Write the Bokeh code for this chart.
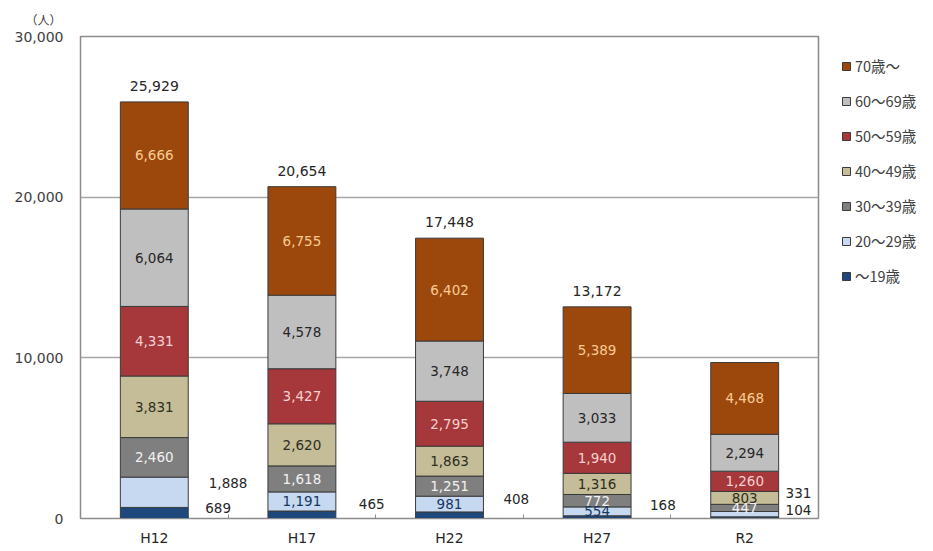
from bokeh.plotting import figure
from bokeh.models import (ColumnDataSource, Legend, LegendItem, FixedTicker,
                          NumeralTickFormatter)
from bokeh.core.properties import value
from bokeh.embed import file_html
from bokeh.resources import INLINE

# ---------------- data ----------------
categories = ["H12", "H17", "H22", "H27", "R2"]
age_groups = ["～19歳", "20～29歳", "30～39歳", "40～49歳", "50～59歳", "60～69歳", "70歳～"]
v_u19 = [689, 465, 408, 168, 104]
v_20s = [1888, 1191, 981, 554, 331]
v_30s = [2460, 1618, 1251, 772, 447]
v_40s = [3831, 2620, 1863, 1316, 803]
v_50s = [4331, 3427, 2795, 1940, 1260]
v_60s = [6064, 4578, 3748, 3033, 2294]
v_70p = [6666, 6755, 6402, 5389, 4468]
show_total = [True, True, True, True, False]
y_ticks = [0, 10000, 20000, 30000]

series = [v_u19, v_20s, v_30s, v_40s, v_50s, v_60s, v_70p]
fills = ["#1F497D", "#C6D9F1", "#7F7F7F", "#C4BD97", "#A6373A", "#BFBFBF", "#9C480C"]
label_colors = [None, "#17375E", "#F2F2F2", "#2E2E1E", "#F6D0D0", "#262626", "#F9CB95"]

FONT = "Noto Sans CJK JP"
NUM_FONT = "DejaVu Sans"
FW, FH = 738, 482
YMAX = 30000
px_x = 5.0 / FW
px_y = YMAX / FH

p = figure(width=925, height=543, x_range=(0, 5), y_range=(0, YMAX),
           output_backend="svg", toolbar_location=None,
           min_border_left=80, min_border_right=107, min_border_top=36,
           min_border_bottom=25)
p.frame_width = FW
p.frame_height = FH

xc = [i + 0.5 for i in range(len(categories))]
bar_w = 0.46

renderers = []
bottoms = [0] * len(categories)
inside = {"x": [], "y": [], "t": [], "c": []}
seg_centers = []
for s_idx, vals in enumerate(series):
    tops = [b + v for b, v in zip(bottoms, vals)]
    src = ColumnDataSource(dict(x=xc, bottom=bottoms, top=tops))
    r = p.vbar(x="x", width=bar_w, bottom="bottom", top="top", source=src,
               fill_color=fills[s_idx], line_color="#3A3A3A", line_width=1)
    renderers.append(r)
    centers = [(b + t) / 2 for b, t in zip(bottoms, tops)]
    seg_centers.append(centers)
    for i, v in enumerate(vals):
        if s_idx == 0:
            continue
        if s_idx == 1 and i in (0, 4):
            continue
        inside["x"].append(xc[i])
        inside["y"].append(centers[i])
        inside["t"].append(f"{v:,}")
        inside["c"].append(label_colors[s_idx])
    bottoms = tops

p.text(x="x", y="y", text="t", text_color="c", source=ColumnDataSource(inside),
       text_align="center", text_baseline="middle", text_font=value(NUM_FONT),
       text_font_size="13.5px")

# totals
tot = {"x": [], "y": [], "t": []}
for i, t in enumerate(bottoms):
    if show_total[i]:
        tot["x"].append(xc[i])
        tot["y"].append(t + 11 * px_y)
        tot["t"].append(f"{t:,}")
p.text(x="x", y="y", text="t", source=ColumnDataSource(tot), text_color="#262626",
       text_align="center", text_baseline="bottom", text_font=value(NUM_FONT),
       text_font_size="14px")

# labels placed outside the bars (series index, category index, dx px, dy px up)
outside_spec = [(0, 0, -10, 5), (1, 0, 0, 9), (0, 1, -4, 11), (0, 2, -7, 16),
                (0, 3, -8, 12), (1, 4, -20, 21), (0, 4, -20, 8)]
out = {"x": [], "y": [], "t": []}
for s_idx, ci, dx, dy in outside_spec:
    out["x"].append(ci + 1 + dx * px_x)
    out["y"].append(seg_centers[s_idx][ci] + dy * px_y)
    out["t"].append(f"{series[s_idx][ci]:,}")
p.text(x="x", y="y", text="t", source=ColumnDataSource(out), text_color="#262626",
       text_align="center", text_baseline="middle", text_font=value(NUM_FONT),
       text_font_size="13.5px")

# axes
p.yaxis.ticker = FixedTicker(ticks=y_ticks)
p.yaxis.formatter = NumeralTickFormatter(format="0,0")
p.yaxis.major_tick_line_color = None
p.yaxis.major_tick_out = 0
p.yaxis.major_tick_in = 0
p.yaxis.minor_tick_line_color = None
p.yaxis.axis_line_color = "#8C8C8C"
p.yaxis.major_label_text_font = NUM_FONT
p.yaxis.major_label_text_font_size = "14px"
p.yaxis.major_label_text_color = "#404040"
p.yaxis.major_label_standoff = 17

p.xaxis.ticker = FixedTicker(ticks=xc, minor_ticks=[1, 2, 3, 4])
p.xaxis.major_label_overrides = {x: c for x, c in zip(xc, categories)}
p.xaxis.major_tick_line_color = None
p.xaxis.major_tick_out = 0
p.xaxis.major_tick_in = 0
p.xaxis.minor_tick_in = 4
p.xaxis.minor_tick_out = 0
p.xaxis.minor_tick_line_color = "#8C8C8C"
p.xaxis.axis_line_color = "#8C8C8C"
p.xaxis.major_label_text_font = NUM_FONT
p.xaxis.major_label_text_font_size = "14px"
p.xaxis.major_label_text_color = "#262626"
p.xaxis.major_label_standoff = 11

p.xgrid.grid_line_color = None
p.ygrid.ticker = FixedTicker(ticks=y_ticks)
p.ygrid.grid_line_color = "#A6A6A6"
p.ygrid.grid_line_width = 1.5
p.outline_line_color = "#8C8C8C"
p.outline_line_width = 1.5

# unit label as title
p.title.text = "（人）"
p.title.align = "left"
p.title.offset = -55
p.title.standoff = 17
p.title.text_font = FONT
p.title.text_font_size = "12px"
p.title.text_font_style = "normal"
p.title.text_color = "#404040"

items = [LegendItem(label=age_groups[k], renderers=[renderers[k]])
         for k in range(len(series) - 1, -1, -1)]
legend = Legend(items=items, location=(23, 232), border_line_color=None,
                background_fill_alpha=0, glyph_width=10, glyph_height=10,
                label_standoff=4, spacing=14, label_height=20, padding=2, margin=0,
                label_text_font=FONT, label_text_font_size="14.5px",
                label_text_color="#404040")
p.add_layout(legend, "right")

open("out.html", "w").write(file_html(p, INLINE))
